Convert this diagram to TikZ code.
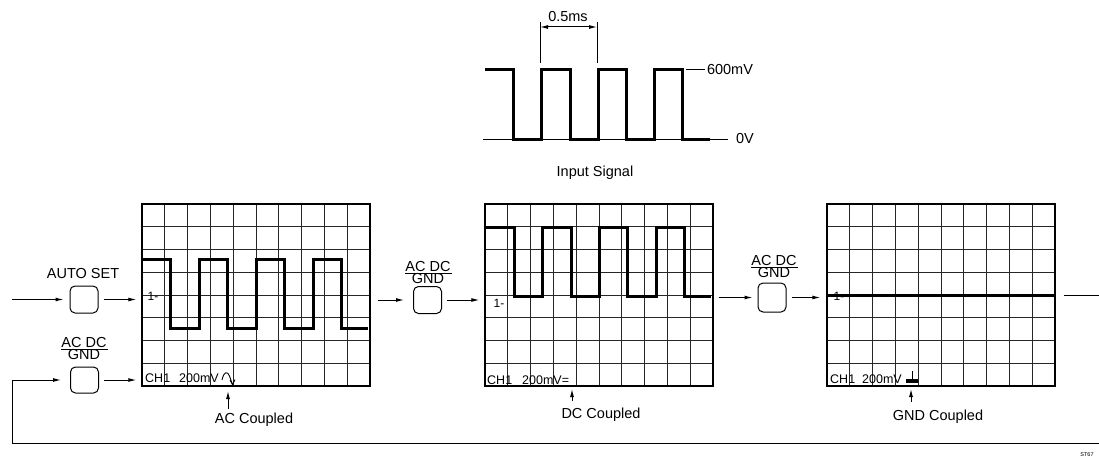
\documentclass[tikz,border=0pt]{standalone}
\usepackage{fontspec}
\setmainfont{Liberation Sans}
\usetikzlibrary{arrows.meta}
\begin{document}
\begin{tikzpicture}[x=1pt,y=-1pt,
 conn/.style={line width=1pt,-{Latex[length=8pt,width=4pt]}},
 dimarrow/.style={line width=1pt,{Latex[length=8pt,width=4pt]}-{Latex[length=8pt,width=4pt]}},
 wire/.style={line width=1pt},
 btn/.style={draw,line width=1pt,rounded corners=5pt,minimum width=28pt,minimum height=27pt,inner sep=0pt},
 scr/.style={draw,line width=1.4pt,minimum width=228pt,minimum height=182pt,inner sep=0pt},
 gridline/.style={line width=1pt,black!85},
 wave/.style={line width=3pt,line join=miter},
 lbl/.style={font=\fontsize{14.5}{16}\selectfont,inner sep=0pt},
 small/.style={font=\fontsize{12.5}{13}\selectfont,inner sep=0pt,anchor=west},
 tiny/.style={font=\fontsize{12}{12}\selectfont,inner sep=0pt},
]
\useasboundingbox (0,0) rectangle (1099,468);

% ---------- input signal ----------
\draw[wire] (483,139) -- (728,139);
\draw[wire] (686,70) -- (705,70);
\draw[wave] (485,70) -- (513,70) -- (513,139) -- (541,139) -- (541,70) -- (570,70) -- (570,139) -- (598,139) -- (598,70) -- (626,70) -- (626,139) -- (654,139) -- (654,70) -- (682,70) -- (682,139) -- (710,139);
\coordinate (d1t) at (540,22); \coordinate (d1b) at (540,63);
\coordinate (d2t) at (597,22); \coordinate (d2b) at (597,63);
\draw[wire] (d1t) -- (d1b);
\draw[wire] (d2t) -- (d2b);
\coordinate (a1) at (540,27); \coordinate (a2) at (597,27);
\draw[dimarrow] (a1) -- (a2);
\node[lbl] (dimtxt) at (568,17) {0.5ms};
\node[lbl] (v600) at (730,70) {600mV};
\node[lbl] (v0) at (745,139) {0V};
\node[lbl] (insig) at (595,173) {Input Signal};

% ---------- screens ----------
\foreach \ox in {142,485,827} {
  \foreach \i in {1,...,9} \draw[gridline] (\ox+\i*22.8,204) -- (\ox+\i*22.8,386);
  \foreach \j in {1,...,7} \draw[gridline] (\ox,204+\j*22.75) -- (\ox+228,204+\j*22.75);
}
\node[scr] (s1) at (256,295) {};
\node[scr] (s2) at (599,295) {};
\node[scr] (s3) at (941,295) {};

% waveforms
\draw[wave] (142,259) -- (170.5,259) -- (170.5,328) -- (199,328) -- (199,259) -- (227.5,259) -- (227.5,328) -- (256,328) -- (256,259) -- (284.5,259) -- (284.5,328) -- (313,328) -- (313,259) -- (341.5,259) -- (341.5,328) -- (368,328);
\draw[wave] (485,227) -- (514,227) -- (514,296) -- (542,296) -- (542,227) -- (571,227) -- (571,296) -- (599,296) -- (599,227) -- (627,227) -- (627,296) -- (656,296) -- (656,227) -- (684,227) -- (684,296) -- (711,296);
\node[tiny] (one3) at (839,296) {1-};
\draw[wave] (827,295) -- (1055,295);

\node[tiny] (one1) at (153,296) {1-};
\node[tiny] (one2) at (499,303) {1-};

% channel readouts
\node[small] (ch1a) at (145,378) {CH1};
\node[small] (mv1) at (179,378) {200mV};
\draw[line width=0.9pt] (222,380) .. controls (224,371) and (227.5,371) .. (229.5,376) -- (232.5,384.5);
\draw[line width=0.9pt] (230,380) -- (232.5,384.5) -- (235,379.5);
\node[small] (ch1b) at (487,380) {CH1};
\node[small] (mv2) at (522,380) {200mV=};
\node[small] (ch1c) at (830,379) {CH1};
\node[small] (mv3) at (862,379) {200mV};
\draw[line width=1pt] (912,371) -- (912,380);
\fill (906,379) rectangle (918,383);

% coupling labels
\node[lbl] (acc) at (254,420) {AC Coupled};
\node[lbl] (dcc) at (601,415) {DC Coupled};
\node[lbl] (gndc) at (938,417) {GND Coupled};
\coordinate (p1b) at (228,409); \coordinate (p1t) at (228,391);
\coordinate (p2b) at (572,401); \coordinate (p2t) at (572,389);
\coordinate (p3b) at (911,402); \coordinate (p3t) at (911,389);
\draw[conn] (p1b) -- (p1t);
\draw[conn] (p2b) -- (p2t);
\draw[conn] (p3b) -- (p3t);

% ---------- buttons ----------
\node[btn] (b1) at (84,299.5) {};
\node[btn] (b2) at (427.5,300) {};
\node[btn,minimum height=29pt] (b3) at (772,297.5) {};
\node[btn,minimum height=26pt] (b4) at (84.5,380) {};

\node[lbl] (auto) at (83,274) {AUTO SET};
\node[lbl,anchor=base] (l2a) at (428,271) {AC DC};
\draw[wire] (405,273) -- (452,273);
\node[lbl,anchor=base] (l2b) at (428,283.5) {GND};
\node[lbl,anchor=base] (l3a) at (774,265) {AC DC};
\draw[wire] (751,267) -- (798,267);
\node[lbl,anchor=base] (l3b) at (774,277.5) {GND};
\node[lbl,anchor=base] (l4a) at (84,347) {AC DC};
\draw[wire] (61,349) -- (108,349);
\node[lbl,anchor=base] (l4b) at (84,359.5) {GND};

% ---------- connectors ----------
\coordinate (in1) at (12,299.5);
\draw[conn,shorten >=6pt] (in1) -- (b1.west);
\draw[conn,shorten <=5pt,shorten >=5pt] (b1.east) -- (s1.west |- b1.east);
\coordinate (fbR) at (1099,443);
\coordinate (fbL) at (12,443);
\draw[conn,shorten >=9pt] (fbR) -- (fbL) |- (b4.west);
\draw[conn,shorten <=5pt,shorten >=5pt] (b4.east) -- (s1.west |- b4.east);

\draw[conn,shorten <=7pt,shorten >=9pt] (s1.east |- b2.west) -- (b2.west);
\draw[conn,shorten <=5pt,shorten >=5pt] (b2.east) -- (s2.west |- b2.east);
\draw[conn,shorten <=5pt,shorten >=5pt] (s2.east |- b3.west) -- (b3.west);
\draw[conn,shorten <=5pt,shorten >=6pt] (b3.east) -- (s3.west |- b3.east);
\coordinate (outR) at (1099,295);
\draw[wire,shorten <=8pt] (s3.east |- outR) -- (outR);

\node[font=\fontsize{5.5}{6}\selectfont,inner sep=0pt] (tag) at (1087,455) {ST67};
\end{tikzpicture}
\end{document}
